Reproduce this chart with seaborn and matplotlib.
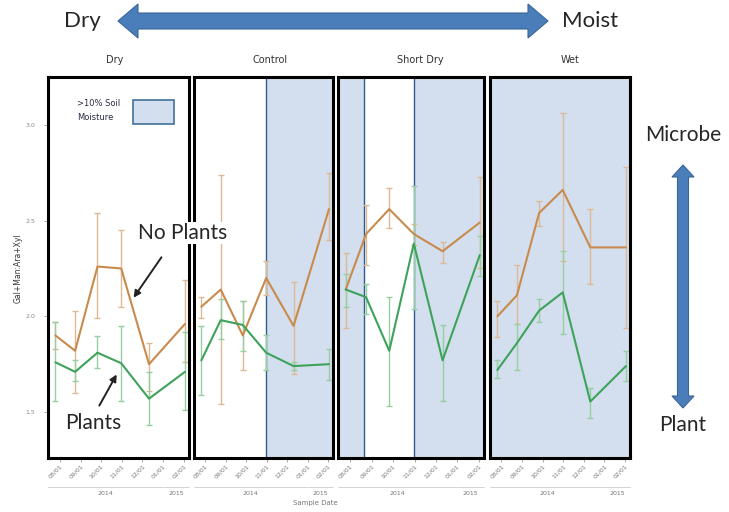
import numpy as np
import pandas as pd
import matplotlib.pyplot as plt
import matplotlib.dates as mdates
import matplotlib.patches as mpatches
import seaborn as sns

# sample dates (same for every treatment)
dates = pd.to_datetime(['2014-07-26', '2014-08-24', '2014-09-26',
                        '2014-10-31', '2014-12-11', '2015-02-02'])
treatments = ['Dry', 'Control', 'Short Dry', 'Wet']

# Gal+Man:Ara+Xyl, no plants (mean, lower and upper end of error bar)
noplant_mean = {
    'Dry':       [1.90, 1.82, 2.26, 2.25, 1.75, 1.96],
    'Control':   [2.05, 2.14, 1.90, 2.20, 1.95, 2.56],
    'Short Dry': [2.14, 2.43, 2.56, 2.43, 2.34, 2.49],
    'Wet':       [2.00, 2.11, 2.54, 2.66, 2.36, 2.36],
}
noplant_lo = {
    'Dry':       [1.83, 1.60, 1.99, 2.05, 1.61, 1.76],
    'Control':   [1.99, 1.54, 1.72, 2.11, 1.70, 2.40],
    'Short Dry': [1.94, 2.27, 2.46, 2.37, 2.28, 2.25],
    'Wet':       [1.89, 1.96, 2.47, 2.29, 2.17, 1.94],
}
noplant_hi = {
    'Dry':       [1.97, 2.03, 2.54, 2.45, 1.86, 2.19],
    'Control':   [2.10, 2.74, 2.08, 2.29, 2.18, 2.75],
    'Short Dry': [2.33, 2.58, 2.67, 2.48, 2.39, 2.73],
    'Wet':       [2.08, 2.27, 2.60, 3.06, 2.56, 2.78],
}

# with plants
plant_mean = {
    'Dry':       [1.76, 1.71, 1.81, 1.755, 1.57, 1.71],
    'Control':   [1.77, 1.98, 1.955, 1.81, 1.74, 1.75],
    'Short Dry': [2.14, 2.10, 1.82, 2.38, 1.77, 2.32],
    'Wet':       [1.72, 1.86, 2.03, 2.125, 1.555, 1.74],
}
plant_lo = {
    'Dry':       [1.56, 1.66, 1.73, 1.56, 1.43, 1.51],
    'Control':   [1.59, 1.88, 1.82, 1.72, 1.72, 1.67],
    'Short Dry': [2.05, 2.01, 1.53, 2.04, 1.56, 2.21],
    'Wet':       [1.68, 1.72, 1.97, 1.91, 1.47, 1.66],
}
plant_hi = {
    'Dry':       [1.97, 1.77, 1.895, 1.95, 1.71, 1.92],
    'Control':   [1.95, 2.09, 2.08, 1.90, 1.76, 1.83],
    'Short Dry': [2.22, 2.17, 2.10, 2.68, 1.955, 2.42],
    'Wet':       [1.77, 1.96, 2.09, 2.34, 1.625, 1.82],
}

# periods with >10% soil moisture
x_start = pd.Timestamp('2014-07-15')
x_end = pd.Timestamp('2015-02-08')
wet_from = {'Dry': [], 'Control': ['2014-10-31'],
            'Short Dry': ['2014-07-15', '2014-10-31'], 'Wet': ['2014-07-15']}
wet_to = {'Dry': [], 'Control': ['2015-02-08'],
          'Short Dry': ['2014-08-21', '2015-02-08'], 'Wet': ['2015-02-08']}

rows = []
for t in treatments:
    for d, m in zip(dates, noplant_mean[t]):
        rows.append((t, 'No Plants', d, m))
    for d, m in zip(dates, plant_mean[t]):
        rows.append((t, 'Plants', d, m))
df = pd.DataFrame(rows, columns=['treatment', 'series', 'date', 'ratio'])

sns.set_style('white')
plt.rcParams['font.family'] = ['DejaVu Sans']

W, H = 729, 512
fig = plt.figure(figsize=(W / 100, H / 100), dpi=100)

orange = '#C98A4E'
green = '#3DA35A'
pal = {'No Plants': orange, 'Plants': green}
err_col = {'No Plants': '#DDB995', 'Plants': '#97CFA3'}
shade = '#D3DFEE'
shade_edge = '#2F5C8F'

# panel boxes in pixels (left, right); top 77, bottom 458
panels = [(48, 189), (194, 333), (338, 484), (490, 630)]
top, bot = 77, 458

for i, t in enumerate(treatments):
    l, r = panels[i]
    ax = fig.add_axes([l / W, 1 - bot / H, (r - l) / W, (bot - top) / H])
    for a, b in zip(wet_from[t], wet_to[t]):
        ax.axvspan(pd.Timestamp(a), pd.Timestamp(b), facecolor=shade,
                   edgecolor=shade_edge, lw=1.0, zorder=0)
    sub = df[df.treatment == t]
    sns.lineplot(data=sub, x='date', y='ratio', hue='series', palette=pal,
                 ax=ax, legend=False, linewidth=1.5, zorder=3)
    for s, mean, lo, hi in [('No Plants', noplant_mean[t], noplant_lo[t], noplant_hi[t]),
                            ('Plants', plant_mean[t], plant_lo[t], plant_hi[t])]:
        mean = np.array(mean)
        yerr = [mean - np.array(lo), np.array(hi) - mean]
        ax.errorbar(dates, mean, yerr=yerr, fmt='none', ecolor=err_col[s],
                    elinewidth=1.0, capsize=2.2, capthick=1.0, zorder=2)
    ax.set_xlim(x_start, x_end)
    ax.set_ylim(1.26, 3.25)
    ax.set_xlabel('')
    ax.set_ylabel('')
    ax.xaxis.set_major_locator(mdates.MonthLocator())
    ax.xaxis.set_major_formatter(mdates.DateFormatter('%m/%d'))
    ax.tick_params(axis='x', labelsize=4.5, labelcolor='#777777', color='#999999',
                   length=3, width=0.6, pad=1, bottom=True)
    for lab in ax.get_xticklabels():
        lab.set_rotation(45)
        lab.set_ha('right')
        lab.set_va('top')
        lab.set_rotation_mode('anchor')
    if i == 0:
        ax.set_yticks([1.5, 2.0, 2.5, 3.0])
        ax.set_yticklabels(['1.5', '2.0', '2.5', '3.0'])
        ax.tick_params(axis='y', labelsize=4.5, labelcolor='#888888', color='#999999',
                       length=3, width=0.6, pad=6, left=True)
    else:
        ax.set_yticks([])
    for sp in ax.spines.values():
        sp.set_color('black')
        sp.set_linewidth(2.2)
    # year labels under the month ticks
    jan = pd.Timestamp('2015-01-01')
    trans = ax.get_xaxis_transform()
    ax.plot([x_start, jan - pd.Timedelta(days=1)], [-0.077, -0.077], transform=trans,
            color='#cccccc', lw=0.6, clip_on=False)
    ax.plot([jan + pd.Timedelta(days=1), x_end], [-0.077, -0.077], transform=trans,
            color='#cccccc', lw=0.6, clip_on=False)
    ax.text(x_start + (jan - x_start) / 2, -0.092, '2014', transform=trans,
            ha='center', va='center', fontsize=4.5, color='#777777')
    ax.text(jan + (x_end - jan) / 2, -0.092, '2015', transform=trans,
            ha='center', va='center', fontsize=4.5, color='#777777')

# overlay in pixel coordinates for the annotations
ov = fig.add_axes([0, 0, 1, 1], zorder=10)
ov.set_xlim(0, W)
ov.set_ylim(H, 0)
ov.axis('off')
ov.patch.set_alpha(0)

blue = '#4A7EBB'
blue_edge = '#3A6697'


def double_arrow(x0, y0, x1, y1, w, hw, hl):
    # two-headed block arrow as one polygon, along the line from (x0,y0) to (x1,y1)
    L = np.hypot(x1 - x0, y1 - y0)
    ux, uy = (x1 - x0) / L, (y1 - y0) / L
    px, py = -uy, ux
    pts = [(0, 0), (hl, hw / 2), (hl, w / 2), (L - hl, w / 2), (L - hl, hw / 2),
           (L, 0), (L - hl, -hw / 2), (L - hl, -w / 2), (hl, -w / 2), (hl, -hw / 2)]
    xy = [(x0 + a * ux + b * px, y0 + a * uy + b * py) for a, b in pts]
    ov.add_patch(mpatches.Polygon(xy, closed=True, facecolor=blue,
                                  edgecolor=blue_edge, lw=0.8))


double_arrow(118, 21, 548, 21, 16, 34, 20)
double_arrow(683, 165, 683, 408, 11, 22, 12)

big = dict(family=['Lato', 'DejaVu Sans'], color='#262626')
ov.text(82, 21, 'Dry', fontsize=16, ha='center', va='center', **big)
ov.text(590, 21, 'Moist', fontsize=16, ha='center', va='center', **big)
ov.text(683, 135, 'Microbe', fontsize=15, ha='center', va='center', **big)
ov.text(683, 425, 'Plant', fontsize=15, ha='center', va='center', **big)

title_x = [115, 270, 420, 570]
for x, t in zip(title_x, treatments):
    ov.text(x, 60, t, fontsize=7, ha='center', va='center', color='#333333')

ov.text(18, 268, 'Gal+Man:Ara+Xyl', rotation=90, fontsize=5.5, ha='center',
        va='center', color='#333333')
ov.text(315, 503, 'Sample Date', fontsize=5, ha='center', va='center', color='#777777')

# moisture legend
ov.text(77, 103, '>10% Soil', fontsize=6, ha='left', va='center', color='#2A2A45')
ov.text(77, 118, 'Moisture', fontsize=6, ha='left', va='center', color='#2A2A45')
ov.add_patch(mpatches.Rectangle((133, 100), 41, 24, facecolor=shade,
                                edgecolor='#41719C', lw=1.2))

ov.text(183, 233, 'No Plants', fontsize=15, ha='center', va='center',
        bbox=dict(facecolor='white', edgecolor='none', pad=1), **big)
ov.annotate('', xy=(132, 300), xytext=(163, 255),
            arrowprops=dict(arrowstyle='-|>', color='#222222', lw=1.4, mutation_scale=10))
ov.text(93, 423, 'Plants', fontsize=15, ha='center', va='center', **big)
ov.annotate('', xy=(118, 372), xytext=(98, 408),
            arrowprops=dict(arrowstyle='-|>', color='#222222', lw=1.4, mutation_scale=10))

fig.savefig('out.png', dpi=100)
